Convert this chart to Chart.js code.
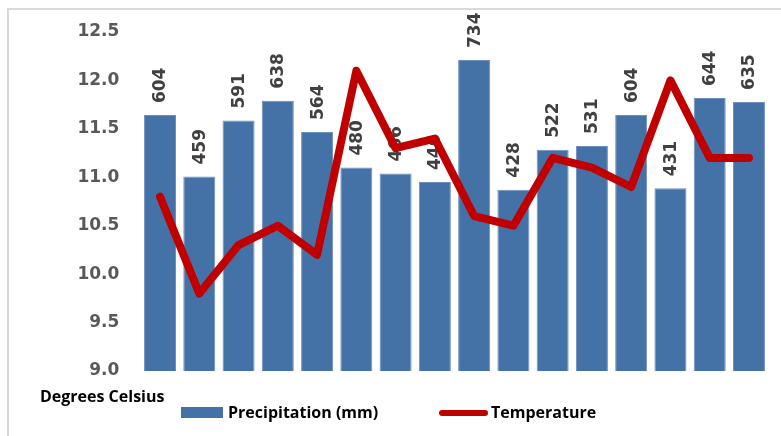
<!DOCTYPE html>
<html>
<head>
<meta charset="utf-8">
<script src="https://cdn.jsdelivr.net/npm/chart.js@4.4.1/dist/chart.umd.min.js"></script>
<style>
  html, body { margin: 0; padding: 0; background: #fff; }
  #wrap { position: relative; width: 781px; height: 436px; }
  #frame { position: absolute; left: 7px; top: 8px; right: 0; bottom: 0;
           border-top: 2px solid #d9d9d9; border-left: 2px solid #d9d9d9; pointer-events: none; }
  canvas { position: absolute; left: 0; top: 0; }
</style>
</head>
<body>
<div id="wrap">
  <canvas id="c" width="781" height="436"></canvas>
  <div id="frame"></div>
</div>
<script>
// ---- data ----
const categories = ["1","2","3","4","5","6","7","8","9","10","11","12","13","14","15","16"];
const precipitation = [604, 459, 591, 638, 564, 480, 466, 446, 734, 428, 522, 531, 604, 431, 644, 635];
const temperature = [10.8, 9.8, 10.3, 10.5, 10.2, 12.1, 11.3, 11.4, 10.6, 10.5, 11.2, 11.1, 10.9, 12.0, 11.2, 11.2];
const precipLabel = "Precipitation (mm)";
const tempLabel = "Temperature";
const axisTitle = "Degrees Celsius";

const BAR_COLOR = '#4472a7';
const LINE_COLOR = '#c00000';

const barLabels = {
  id: 'barLabels',
  afterDatasetDraw(chart, args) {
    if (args.index !== 0) return;
    const ctx = chart.ctx;
    const meta = chart.getDatasetMeta(0);
    ctx.save();
    ctx.font = 'bold 17px "DejaVu Sans"';
    ctx.fillStyle = '#404040';
    ctx.textAlign = 'left';
    ctx.textBaseline = 'middle';
    meta.data.forEach((bar, i) => {
      ctx.save();
      ctx.translate(bar.x, bar.y - 12);
      ctx.rotate(-Math.PI / 2);
      ctx.fillText(String(precipitation[i]), 0, 1);
      ctx.restore();
    });
    ctx.restore();
  }
};

const customLegend = {
  id: 'customLegend',
  afterDraw(chart) {
    const ctx = chart.ctx;
    ctx.save();
    ctx.font = 'bold 16px "Open Sans"';
    ctx.fillStyle = '#000';
    ctx.textBaseline = 'middle';
    ctx.textAlign = 'left';
    ctx.fillText(axisTitle, 40, 397);
    // bar legend
    ctx.fillStyle = BAR_COLOR;
    ctx.fillRect(181, 407, 42, 11);
    ctx.fillStyle = '#000';
    ctx.fillText(precipLabel, 228, 413);
    // line legend
    ctx.strokeStyle = LINE_COLOR;
    ctx.lineWidth = 6;
    ctx.lineCap = 'round';
    ctx.beginPath();
    ctx.moveTo(442, 413);
    ctx.lineTo(485, 413);
    ctx.stroke();
    ctx.fillText(tempLabel, 491, 413);
    ctx.restore();
  }
};

new Chart(document.getElementById('c'), {
  data: {
    labels: categories,
    datasets: [
      {
        type: 'bar',
        label: precipLabel,
        data: precipitation,
        yAxisID: 'y1',
        backgroundColor: BAR_COLOR,
        borderColor: '#6d8fbe',
        borderWidth: 1,
        categoryPercentage: 1.0,
        barPercentage: 0.815,
        order: 1
      },
      {
        type: 'line',
        label: tempLabel,
        data: temperature,
        yAxisID: 'y',
        borderColor: LINE_COLOR,
        borderWidth: 8,
        borderJoinStyle: 'round',
        borderCapStyle: 'round',
        pointRadius: 0,
        tension: 0,
        order: 0
      }
    ]
  },
  options: {
    responsive: false,
    animation: false,
    layout: { padding: { left: 0, top: 32, right: 12.4, bottom: 65 } },
    plugins: {
      legend: { display: false },
      tooltip: { enabled: false }
    },
    scales: {
      x: {
        display: false,
        offset: true,
        grid: { display: false }
      },
      y: {
        position: 'left',
        min: 9,
        max: 12.5,
        afterFit(scale) { scale.width = 140.4; },
        grid: { display: false, drawTicks: false },
        border: { display: false },
        ticks: {
          stepSize: 0.5,
          padding: 21,
          color: '#595959',
          font: { family: '"DejaVu Sans"', size: 17, weight: 'bold' },
          callback: v => Number(v).toFixed(1)
        }
      },
      y1: {
        display: false,
        min: 0,
        max: 800
      }
    }
  },
  plugins: [barLabels, customLegend]
});
</script>
</body>
</html>
